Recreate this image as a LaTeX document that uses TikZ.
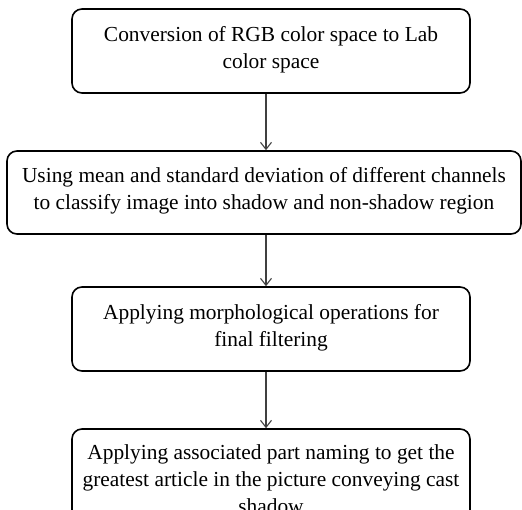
\documentclass[tikz,border=0pt]{standalone}
\usepackage{fontspec}
\setmainfont{Liberation Serif}
\usetikzlibrary{arrows.meta}
\begin{document}
\begin{tikzpicture}[x=1pt,y=-1pt,
  stepbox/.style={draw=black, line width=1.6pt, rounded corners=10pt, align=center,
    font=\fontsize{21.4}{27}\selectfont, inner sep=0pt},
  flow/.style={draw=black!75, line width=1.1pt,
    -{Straight Barb[length=7pt,width=11pt,line width=1.1pt]}}]
\path[use as bounding box] (0,0) rectangle (522,510);
\clip (0,0) rectangle (522,510);
\node[stepbox, text depth=8pt, minimum width=398pt, minimum height=84pt] (b1) at (271,51)
  {Conversion of RGB color space to Lab\\color space};
\node[stepbox, text depth=8pt, minimum width=514pt, minimum height=83pt] (b2) at (264,192.5)
  {Using mean and standard deviation of different channels\\to classify image into shadow and non-shadow region};
\node[stepbox, text depth=8pt, minimum width=398pt, minimum height=84pt] (b3) at (271,329)
  {Applying morphological operations for\\final filtering};
\node[stepbox, minimum width=398pt, minimum height=100pt] (b4) at (271,479)
  {Applying associated part naming to get the\\greatest article in the picture conveying cast\\shadow};
\draw[flow] ([xshift=-5pt]b1.south) -- ([xshift=-5pt]b1.south |- b2.north);
\draw[flow] ([xshift=2pt]b2.south) -- ([xshift=2pt]b2.south |- b3.north);
\draw[flow] ([xshift=-5pt]b3.south) -- ([xshift=-5pt]b3.south |- b4.north);
\end{tikzpicture}
\end{document}
